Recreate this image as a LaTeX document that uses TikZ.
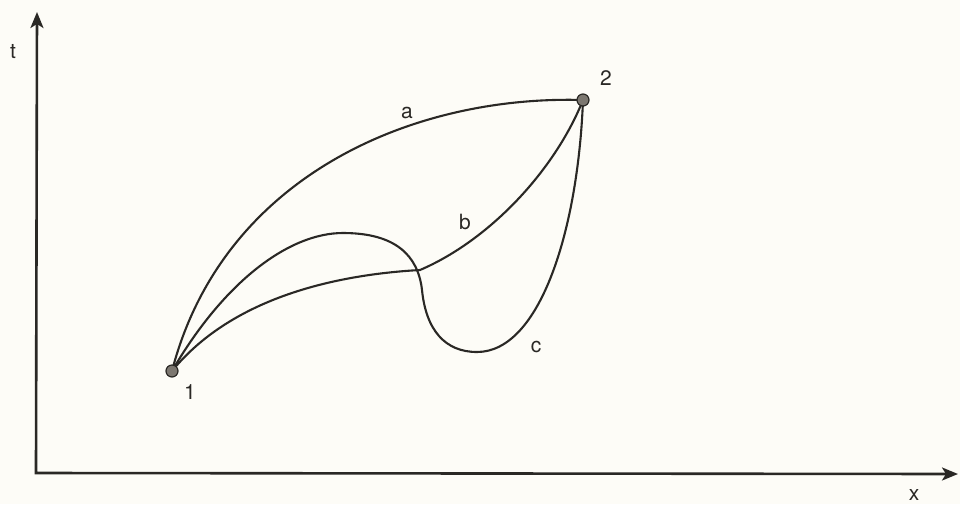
\documentclass[tikz,border=0pt]{standalone}
\usepackage{fontspec}
\setmainfont{TeX Gyre Heros}
\usetikzlibrary{arrows.meta}
\definecolor{ink}{HTML}{2A2825}
\definecolor{dotfill}{HTML}{7C7770}
\definecolor{paper}{HTML}{FDFCF7}
\tikzset{
  axis/.style={draw=ink, line width=2.6pt, arrows={Stealth[length=16pt,width=13pt,inset=4pt]-Stealth[length=16pt,width=13pt,inset=4pt]}},
  path/.style={draw=ink, line width=2.1pt},
  dot/.style={circle, draw=ink, fill=dotfill, line width=1.2pt, minimum size=12pt, inner sep=0pt},
  lab/.style={text=ink, font=\fontsize{21}{21}\selectfont, inner sep=0pt}
}
\begin{document}
\begin{tikzpicture}[x=1pt,y=-1pt]
\fill[paper] (0,0) rectangle (960,504);
\useasboundingbox (0,0) rectangle (960,504);
\coordinate (T) at (37,12);
\coordinate (O) at (36,473);
\coordinate (X) at (958,474);
\coordinate (P1) at (172,371);
\coordinate (P2) at (583,100);
\coordinate (K) at (420,270);
\coordinate (H) at (343,233);
\coordinate (D) at (422,290);
\coordinate (B) at (477,352);
\draw[axis] (T) -- (O) -- (X);
% curve a
\draw[path] (P1) .. controls (222,178) and (410,95) .. (P2);
% curve b
\draw[path] (P1) .. controls (230,300) and (330,275) .. (K)
                 .. controls (490,240) and (555,170) .. (P2);
% curve c
\draw[path] (P1) .. controls (225,280) and (290,233) .. (H)
                 .. controls (395,233) and (418,255) .. (D)
                 .. controls (426,330) and (445,352) .. (B)
                 .. controls (540,352) and (578,230) .. (P2);
\node[dot] (n1) at (P1) {};
\node[dot] (n2) at (P2) {};
\node[lab] (l1) at (190,392) {1};
\node[lab] (l2) at (606,78) {2};
\node[lab] (la) at (407,113) {a};
\node[lab] (lb) at (465,222) {b};
\node[lab] (lc) at (536,347) {c};
\node[lab] (lt) at (13,52) {t};
\node[lab] (lx) at (914,495) {x};
\end{tikzpicture}
\end{document}
